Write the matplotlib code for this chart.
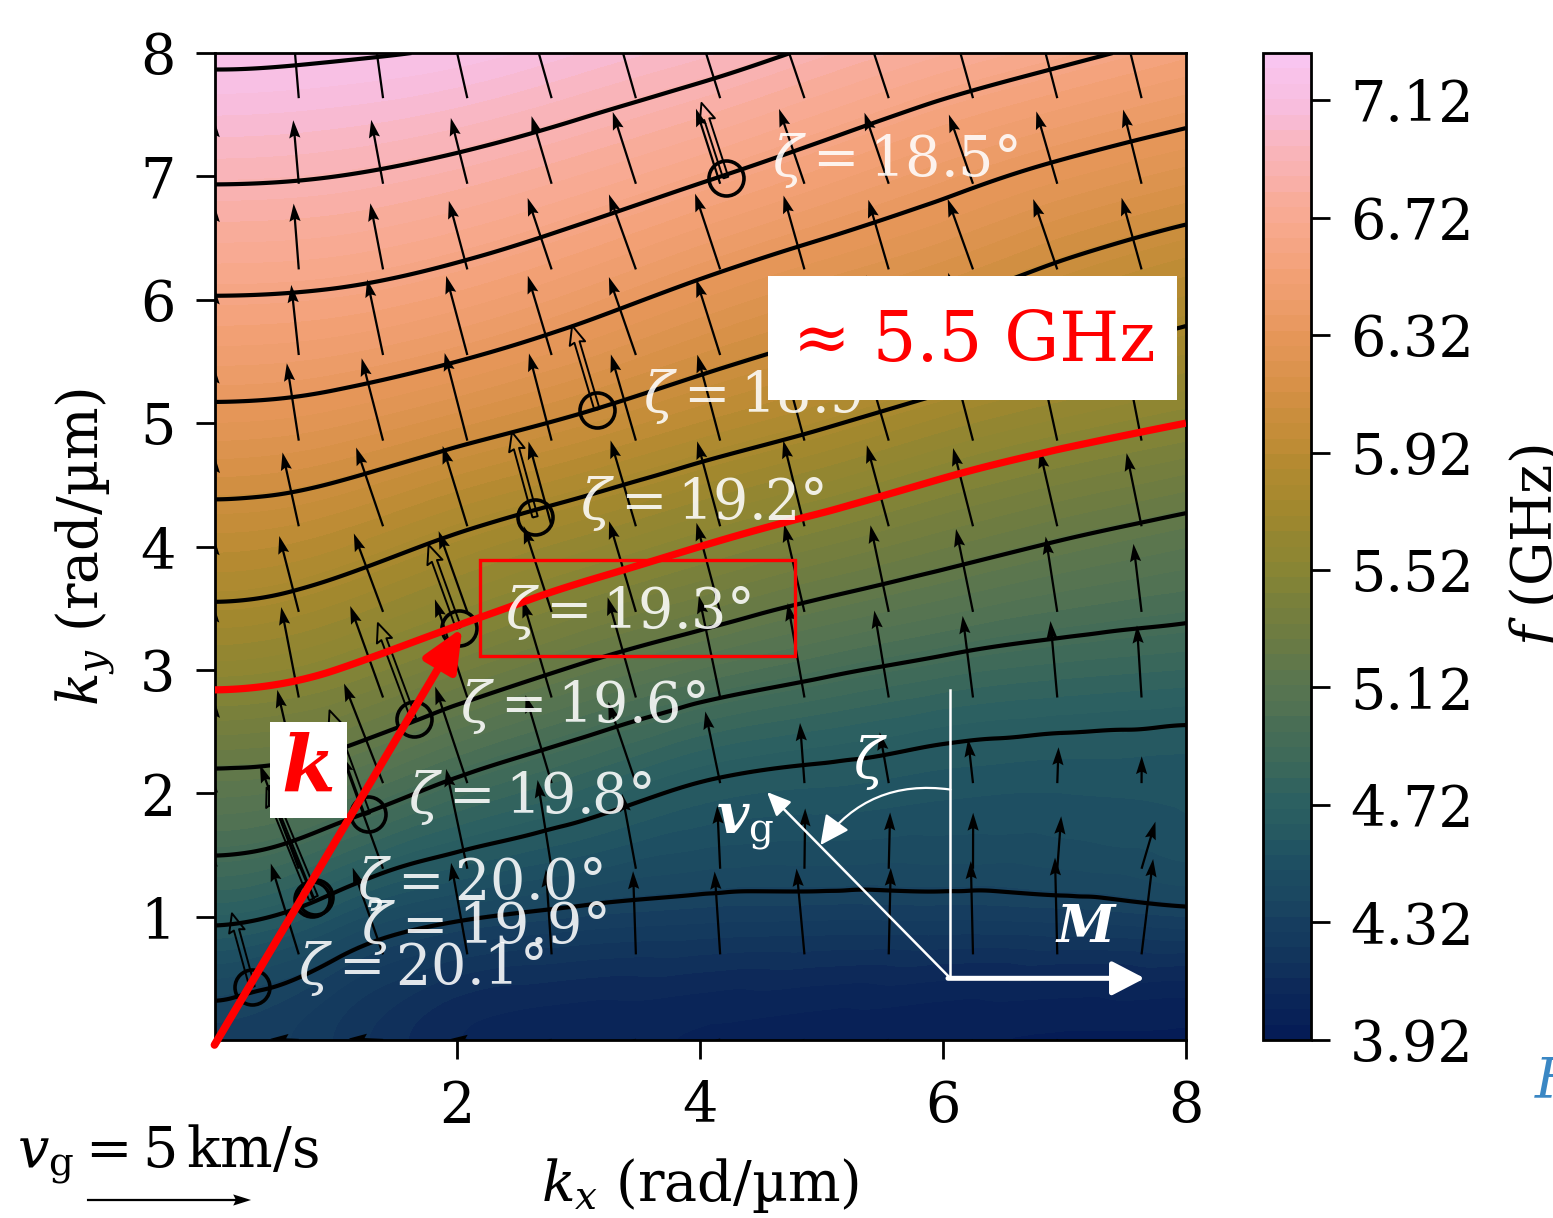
import numpy as np
import matplotlib
matplotlib.use("Agg")
import matplotlib.pyplot as plt
import matplotlib.tri as mtri
from matplotlib.colors import LinearSegmentedColormap
from matplotlib.patches import Rectangle, FancyArrowPatch

plt.rcParams['font.family'] = 'DejaVu Serif'
plt.rcParams['mathtext.fontset'] = 'dejavuserif'
plt.rcParams['font.size'] = 10

# frequency f (GHz) at integer kx, ky (rad/um); one row per ky
kx_nodes = np.arange(9.0)
ky_nodes = np.arange(9.0)
f_nodes = np.array([
    [4.33, 4.23, 4.08, 4.04, 4.02, 4.00, 3.98, 3.97, 3.97],
    [4.70, 4.55, 4.40, 4.34, 4.31, 4.30, 4.30, 4.31, 4.34],
    [5.14, 5.06, 4.88, 4.75, 4.63, 4.59, 4.56, 4.55, 4.56],
    [5.57, 5.50, 5.35, 5.20, 5.07, 4.97, 4.89, 4.84, 4.81],
    [5.93, 5.87, 5.74, 5.62, 5.50, 5.39, 5.29, 5.20, 5.13],
    [6.28, 6.24, 6.14, 6.03, 5.91, 5.80, 5.68, 5.58, 5.50],
    [6.61, 6.59, 6.52, 6.41, 6.28, 6.17, 6.07, 5.95, 5.85],
    [6.92, 6.90, 6.84, 6.75, 6.64, 6.52, 6.40, 6.29, 6.20],
    [7.22, 7.20, 7.16, 7.07, 6.98, 6.87, 6.76, 6.66, 6.56],
])

line_levels = [4.38, 4.66, 4.94, 5.22, 5.78, 6.06, 6.34, 6.62, 6.90, 7.18]
red_level = 5.5
f_min, f_max = 3.92, 7.28
cbar_ticks = [3.92, 4.32, 4.72, 5.12, 5.52, 5.92, 6.32, 6.72, 7.12]

# colourbar colours
cmap_f = [3.92, 4.12, 4.32, 4.52, 4.72, 4.92, 5.12, 5.32, 5.52, 5.72,
          5.92, 6.12, 6.32, 6.52, 6.72, 6.92, 7.12, 7.28]
cmap_hex = ['#041a55', '#0e2c5a', '#173f5f', '#1e5062', '#2c6061', '#426b58',
            '#587550', '#6e7c41', '#878534', '#a0882e', '#ba8b32', '#d49044',
            '#e6975a', '#f2a075', '#f8a98f', '#f9b3b5', '#f8bedf', '#f9c6f2']

# points on the k line and their zeta labels
circle_kx = [0.31, 0.80, 0.83, 1.26, 1.64, 2.01, 2.64, 3.15, 4.21]
circle_ky = [0.43, 1.14, 1.16, 1.83, 2.60, 3.34, 4.24, 5.11, 6.99]
zeta_vals = ['20.1', '19.9', '20.0', '19.8', '19.6', '19.3', '19.2', '18.9', '18.5']
label_kx = [0.69, 1.21, 1.17, 1.59, 2.02, 2.39, 3.01, 3.53, 4.59]
label_ky = [0.45, 0.79, 1.14, 1.84, 2.58, 3.34, 4.22, 5.09, 7.00]

q_step = 0.694
n_q = 12

# ---- smooth field (mirrored: f is even in kx and ky) ----
kx_full = np.concatenate([-kx_nodes[:0:-1], kx_nodes])
ky_full = np.concatenate([-ky_nodes[:0:-1], ky_nodes])
F = np.hstack([f_nodes[:, :0:-1], f_nodes])
F = np.vstack([F[:0:-1], F])
X, Y = np.meshgrid(kx_full, ky_full)
nx, ny = len(kx_full), len(ky_full)
idx = np.arange(nx * ny).reshape(ny, nx)
tris = []
for j in range(ny - 1):
    for i in range(nx - 1):
        a, b, c, d = idx[j, i], idx[j, i + 1], idx[j + 1, i], idx[j + 1, i + 1]
        tris += [[a, b, d], [a, d, c]]
triang = mtri.Triangulation(X.ravel(), Y.ravel(), np.array(tris))
interp = mtri.CubicTriInterpolator(triang, F.ravel(), kind='min_E')

g = np.linspace(0, 8, 321)
GX, GY = np.meshgrid(g, g)
Z = interp(GX, GY)

cmap = LinearSegmentedColormap.from_list(
    'batlowish', list(zip([(v - f_min) / (f_max - f_min) for v in cmap_f], cmap_hex)))

fig = plt.figure(figsize=(1553 / 400, 1218 / 400), dpi=400)
ax = fig.add_axes([214.5 / 1553, 178 / 1218, 971.5 / 1553, 987 / 1218])
cax = fig.add_axes([1263 / 1553, 178 / 1218, 48 / 1553, 987 / 1218])

cf = ax.contourf(GX, GY, Z, levels=np.linspace(f_min, f_max, 65), cmap=cmap, zorder=0)
ax.contour(GX, GY, Z, levels=line_levels, colors='k', linewidths=0.75, zorder=2)
ax.contour(GX, GY, Z, levels=[red_level], colors='red', linewidths=1.3, zorder=4)

qk = np.arange(n_q) * q_step
QX, QY = np.meshgrid(qk, qk)
dfx, dfy = interp.gradient(QX, QY)
U, V = 2 * np.pi * dfx, 2 * np.pi * dfy  # km/s
q = ax.quiver(QX, QY, U, V, pivot='tail', angles='xy', scale_units='xy', scale=3.7,
              width=0.0023, headwidth=5, headlength=8, headaxislength=7,
              color='k', zorder=3)
ax.quiverkey(q, 169 / 1553, 1 - 1200 / 1218, 5, label='', coordinates='figure', labelpos='N')
fig.text(17 / 1553, 1 - 1168 / 1218, r'$v_\mathrm{g} = 5\,\mathrm{km/s}$', ha='left', va='baseline')

cx, cy = np.array(circle_kx), np.array(circle_ky)
cdx, cdy = interp.gradient(cx, cy)
ax.quiver(cx, cy, 2 * np.pi * cdx, 2 * np.pi * cdy, pivot='tail', angles='xy',
          scale_units='xy', scale=3.7, width=0.0055, headwidth=3,
          headlength=3.5, headaxislength=3.2, facecolor='none', edgecolor='k',
          linewidth=0.35, zorder=3.5)
ax.plot(cx, cy, 'o', mfc='none', mec='k', ms=6.3, mew=0.65, zorder=3.6)

for x, y, z in zip(label_kx, label_ky, zeta_vals):
    ax.text(x, y, r'$\zeta = $' + z + '°', color='white', alpha=0.88,
            ha='left', va='baseline', fontsize=10, zorder=5)

# k vector
ax.annotate('', xy=(2.04, 3.34), xytext=(0.0, -0.04), annotation_clip=False,
            arrowprops=dict(arrowstyle='-|>,head_length=0.63,head_width=0.28',
                            color='red', lw=1.4, shrinkA=0, shrinkB=0), zorder=5)
ax.add_patch(Rectangle((0.457, 1.80), 0.635, 0.78, facecolor='white', edgecolor='none', zorder=6))
ax.text(0.77, 2.19, 'k', color='red', fontsize=14, fontweight='bold', fontstyle='italic',
        ha='center', va='center', zorder=7)

ax.add_patch(Rectangle((2.19, 3.11), 2.59, 0.78, facecolor='none', edgecolor='red', lw=0.6, zorder=6))

ax.add_patch(Rectangle((4.56, 5.19), 3.37, 1.0, facecolor='white', edgecolor='none', zorder=6))
ax.text(6.26, 5.66, '≈ 5.5 GHz', color='red', fontsize=12.4, ha='center', va='center', zorder=7)

# geometry sketch
ax.plot([6.06, 6.06], [0.50, 2.84], color='white', lw=0.45, zorder=5)
ax.annotate('', xy=(7.66, 0.50), xytext=(6.04, 0.50),
            arrowprops=dict(arrowstyle='-|>,head_length=0.5,head_width=0.26',
                            color='white', lw=0.9, shrinkA=0, shrinkB=0), zorder=5)
ax.annotate('', xy=(4.55, 2.01), xytext=(6.06, 0.50),
            arrowprops=dict(arrowstyle='-|>,head_length=0.36,head_width=0.16',
                            color='white', lw=0.45, shrinkA=0, shrinkB=0), zorder=5)
ax.add_patch(FancyArrowPatch((6.06, 2.03), (4.99, 1.58), connectionstyle='arc3,rad=0.3',
                             arrowstyle='-|>,head_length=0.45,head_width=0.22',
                             color='white', lw=0.4, mutation_scale=10,
                             shrinkA=0, shrinkB=0, zorder=5))
ax.text(5.40, 2.25, r'$\zeta$', color='white', ha='center', va='center', zorder=5)
ax.text(4.37, 1.74, r'$\mathbfit{v}_\mathrm{g}$', color='white', ha='center', va='center', zorder=5)
ax.text(7.17, 0.91, 'M', color='white', fontsize=9.5, fontweight='bold', fontstyle='italic',
        ha='center', va='center', zorder=5)

ax.set_xlim(0, 8)
ax.set_ylim(0, 8)
ax.set_xticks([2, 4, 6, 8])
ax.set_yticks(range(1, 9))
ax.set_xlabel(r'$k_x$ (rad/µm)')
ax.set_ylabel(r'$k_y$ (rad/µm)')
ax.tick_params(length=3.5, width=0.5)
for s in ax.spines.values():
    s.set_linewidth(0.5)

cb = fig.colorbar(cf, cax=cax, ticks=cbar_ticks, format='%.2f')
cb.outline.set_linewidth(0.5)
cax.tick_params(length=3.5, width=0.5)
cb.set_label('$f$ (GHz)', labelpad=6)

fig.text(1535 / 1553, 1 - 1097 / 1218, 'F', color='#3a87c4', fontstyle='italic',
         ha='left', va='baseline')

fig.savefig('out.png', dpi=400)
